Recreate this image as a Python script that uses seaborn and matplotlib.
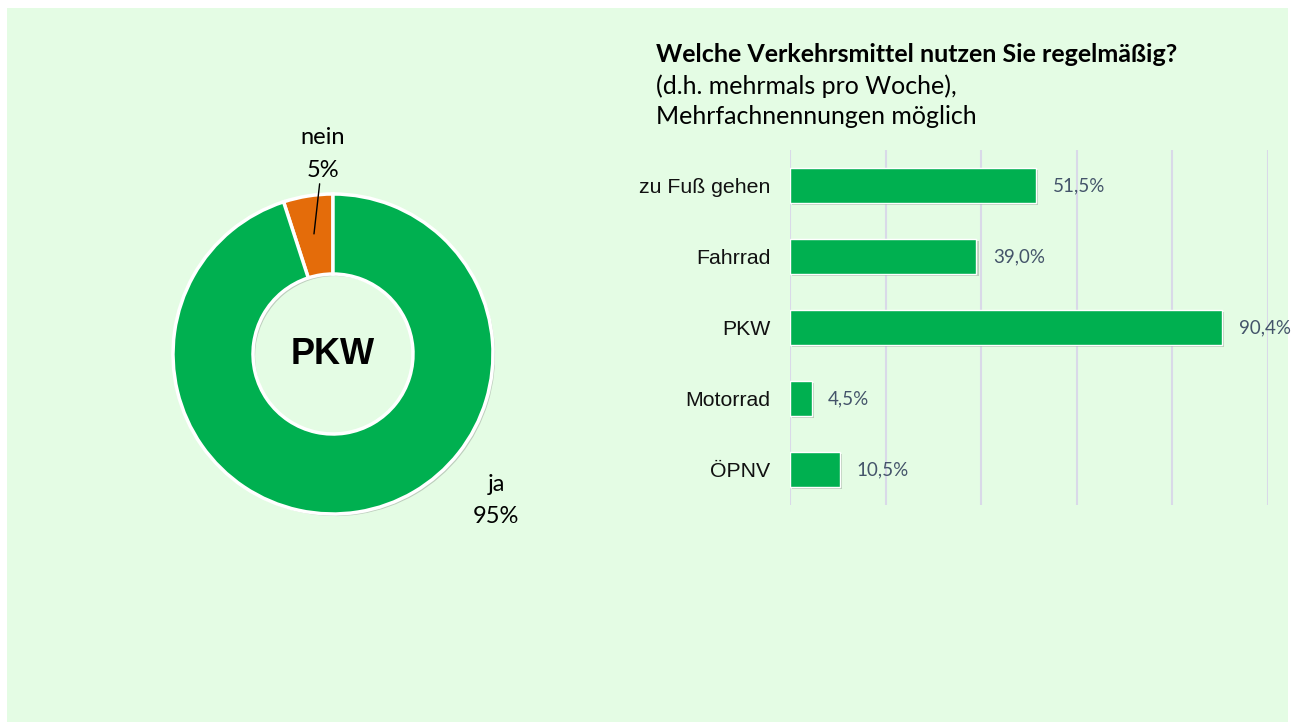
import numpy as np
import pandas as pd
import matplotlib
matplotlib.use("Agg")
import matplotlib.pyplot as plt
import matplotlib.patheffects as pe
from matplotlib.patches import Rectangle
import seaborn as sns

# donut data (PKW ja / nein)
pie_labels = ["nein", "ja"]
pie_values = [5, 95]
pie_colors = ["#E46C0A", "#00B050"]

# bar data
categories = ["zu Fuß gehen", "Fahrrad", "PKW", "Motorrad", "ÖPNV"]
shares = [51.5, 39.0, 90.4, 4.5, 10.5]

title = "Welche Verkehrsmittel nutzen Sie regelmäßig?"
subtitle = "(d.h. mehrmals pro Woche),\nMehrfachnennungen möglich"

sns.set_style("white")
plt.rcParams['font.family'] = ['Lato', 'DejaVu Sans']
plt.rcParams['text.color'] = 'black'

W, H = 1299, 723
fig = plt.figure(figsize=(W / 100, H / 100), dpi=100)
fig.patch.set_facecolor("white")
bg = "#E4FCE4"
fig.patches.append(Rectangle((7 / W, 1 / H), 1281 / W, 714 / H, transform=fig.transFigure,
                             facecolor=bg, edgecolor="none", zorder=-10))

shadow = [pe.SimplePatchShadow(offset=(1.5, -1.5), shadow_rgbFace="#666666", alpha=0.3), pe.Normal()]

# ---- donut ----
cx, cy, r = 333, 723 - 354, 160
ax1 = fig.add_axes([(cx - r) / W, (cy - r) / H, 2 * r / W, 2 * r / H])
ax1.set_facecolor("none")
wedges, _ = ax1.pie(pie_values, colors=pie_colors, startangle=90, counterclock=True,
                    radius=1.0, wedgeprops=dict(width=0.5, edgecolor="white", linewidth=2.5))
for w in wedges:
    w.set_path_effects(shadow)
ax1.set_xlim(-1, 1)
ax1.set_ylim(-1, 1)
ax1.set_aspect("equal")
ax1.axis("off")

ax1.text(0, 0, "PKW", ha="center", va="center", fontsize=26, fontweight="bold", color="black",
         family=["Liberation Sans Narrow", "DejaVu Sans Condensed", "Liberation Sans"])

# nein label with leader line
th = np.deg2rad(90 + pie_values[0] / sum(pie_values) * 360 / 2)
ax1.annotate(f"{pie_labels[0]}\n{pie_values[0]}%", xy=(0.76 * np.cos(th), 0.76 * np.sin(th)),
             xytext=(-0.0625, 1.25), ha="center", va="center", fontsize=17,
             linespacing=1.65, annotation_clip=False,
             arrowprops=dict(arrowstyle="-", color="black", lw=1, shrinkA=0, shrinkB=0))
ax1.text(1.02, -0.915, f"{pie_labels[1]}\n{pie_values[1]}%", ha="center", va="center",
         fontsize=17, linespacing=1.65)

# ---- bars ----
ax2 = fig.add_axes([790 / W, (723 - 505) / H, 478 / W, 355 / H])
ax2.set_facecolor("none")
df = pd.DataFrame({"cat": categories, "val": shares})
sns.barplot(data=df, x="val", y="cat", color="#00B050", saturation=1, width=0.5, ax=ax2, zorder=3)
for p in ax2.patches:
    p.set_path_effects(shadow)
ax2.set_xlim(0, 100)
ax2.set_ylim(4.5, -0.5)
ax2.set_xticks(np.arange(0, 101, 20))
ax2.xaxis.grid(True, color="#D9D9E8", lw=1.5, zorder=0)
ax2.set_axisbelow(True)
for s in ax2.spines.values():
    s.set_visible(False)
ax2.set_xticklabels([])
ax2.tick_params(axis="both", length=0)
ax2.tick_params(axis="y", pad=14)
ax2.set_xlabel("")
ax2.set_ylabel("")
for t in ax2.get_yticklabels():
    t.set_family(["Liberation Sans", "DejaVu Sans"])
    t.set_fontsize(15.3)
    t.set_color("#111111")
ax2.bar_label(ax2.containers[0], labels=[f"{v:.1f}%".replace(".", ",") for v in shares],
              padding=12, fontsize=13.5, color="#44546A")

# title block
fig.text(656 / W, 1 - 55 / H, title, ha="left", va="center", fontsize=18, fontweight="bold")
fig.text(656 / W, 1 - 101 / H, subtitle, ha="left", va="center", fontsize=18,
         linespacing=1.38)

fig.savefig("out.png", dpi=100, facecolor=fig.get_facecolor())
